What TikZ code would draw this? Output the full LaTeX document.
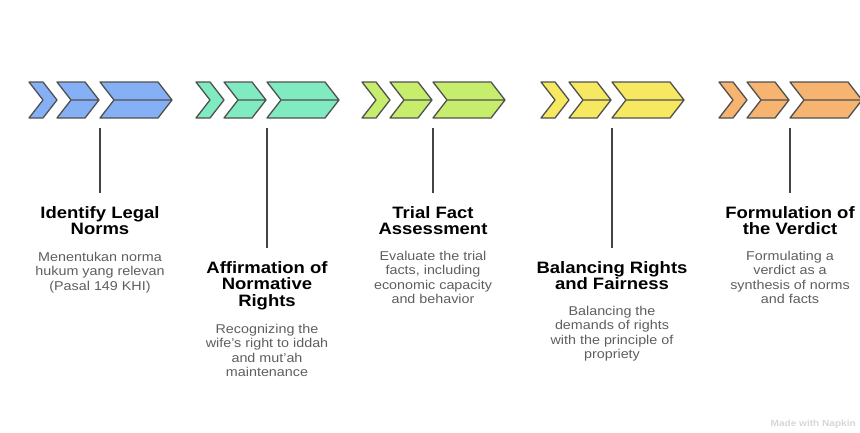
\documentclass[tikz,border=0pt]{standalone}
\usepackage{fontspec}
\setmainfont{Liberation Sans}[FakeStretch=1.12]
\usepackage{tikz}

\definecolor{stepblue}{RGB}{134,176,246}
\definecolor{stepmint}{RGB}{128,234,192}
\definecolor{steplime}{RGB}{198,238,108}
\definecolor{stepyellow}{RGB}{246,232,96}
\definecolor{steporange}{RGB}{246,180,112}
\definecolor{chevline}{RGB}{80,80,80}
\definecolor{stemgray}{RGB}{68,68,68}
\definecolor{descgray}{RGB}{95,95,95}
\definecolor{markgray}{RGB}{215,215,215}

\tikzset{
  chev/.style={draw=chevline, line width=1.3pt, line join=round},
  stem/.style={draw=stemgray, line width=1.8pt},
  headtext/.style={anchor=north, align=center, inner sep=0pt, text=black,
    font=\fontsize{16.5}{16.7}\selectfont\bfseries},
  desctext/.style={anchor=north, align=center, inner sep=0pt, text=descgray,
    font=\fontsize{12.8}{14.3}\selectfont}
}

\begin{document}
\begin{tikzpicture}[x=1pt,y=-1pt]
  \useasboundingbox (0,0) rectangle (860,432);
  \clip (0,0) rectangle (860,432);
  \fill[white] (0,0) rectangle (860,432);

% Step 1
% Identify legal norms
\begin{scope}[shift={(100,0)}]
  \filldraw[chev, fill=stepblue] (-71,82) -- (-57,82) -- (-43,100) -- (-57,118) -- (-71,118) -- (-57,100) -- cycle;
  \filldraw[chev, fill=stepblue] (-43,82) -- (-15,82) -- (-1,100) -- (-15,118) -- (-43,118) -- (-29,100) -- cycle (-29,100) -- (-1,100);
  \filldraw[chev, fill=stepblue] (0,82) -- (58,82) -- (72,100) -- (58,118) -- (0,118) -- (14,100) -- cycle (14,100) -- (72,100);

  \coordinate (top1) at (0,128);
  \coordinate (end1) at (0,193);
  \draw[stem] (top1) -- (end1);
  \node[headtext] (head1) at (0,206) {Identify Legal\\Norms};
  \node[desctext] (desc1) at (0,252) {Menentukan norma\\hukum yang relevan\\(Pasal 149 KHI)};
\end{scope}

% Step 2
% Affirmation of normative rights
\begin{scope}[shift={(267,0)}]
  \filldraw[chev, fill=stepmint] (-71,82) -- (-57,82) -- (-43,100) -- (-57,118) -- (-71,118) -- (-57,100) -- cycle;
  \filldraw[chev, fill=stepmint] (-43,82) -- (-15,82) -- (-1,100) -- (-15,118) -- (-43,118) -- (-29,100) -- cycle (-29,100) -- (-1,100);
  \filldraw[chev, fill=stepmint] (0,82) -- (58,82) -- (72,100) -- (58,118) -- (0,118) -- (14,100) -- cycle (14,100) -- (72,100);

  \coordinate (top2) at (0,128);
  \coordinate (end2) at (0,248);
  \draw[stem] (top2) -- (end2);
  \node[headtext] (head2) at (0,261) {Affirmation of\\Normative\\Rights};
  \node[desctext] (desc2) at (0,324) {Recognizing the\\wife's right to iddah\\and mut'ah\\maintenance};
\end{scope}

% Step 3
% Trial fact assessment
\begin{scope}[shift={(433,0)}]
  \filldraw[chev, fill=steplime] (-71,82) -- (-57,82) -- (-43,100) -- (-57,118) -- (-71,118) -- (-57,100) -- cycle;
  \filldraw[chev, fill=steplime] (-43,82) -- (-15,82) -- (-1,100) -- (-15,118) -- (-43,118) -- (-29,100) -- cycle (-29,100) -- (-1,100);
  \filldraw[chev, fill=steplime] (0,82) -- (58,82) -- (72,100) -- (58,118) -- (0,118) -- (14,100) -- cycle (14,100) -- (72,100);

  \coordinate (top3) at (0,128);
  \coordinate (end3) at (0,193);
  \draw[stem] (top3) -- (end3);
  \node[headtext] (head3) at (0,206) {Trial Fact\\Assessment};
  \node[desctext] (desc3) at (0,251) {Evaluate the trial\\facts, including\\economic capacity\\and behavior};
\end{scope}

% Step 4
% Balancing rights and fairness
\begin{scope}[shift={(612,0)}]
  \filldraw[chev, fill=stepyellow] (-71,82) -- (-57,82) -- (-43,100) -- (-57,118) -- (-71,118) -- (-57,100) -- cycle;
  \filldraw[chev, fill=stepyellow] (-43,82) -- (-15,82) -- (-1,100) -- (-15,118) -- (-43,118) -- (-29,100) -- cycle (-29,100) -- (-1,100);
  \filldraw[chev, fill=stepyellow] (0,82) -- (58,82) -- (72,100) -- (58,118) -- (0,118) -- (14,100) -- cycle (14,100) -- (72,100);

  \coordinate (top4) at (0,128);
  \coordinate (end4) at (0,248);
  \draw[stem] (top4) -- (end4);
  \node[headtext] (head4) at (0,261) {Balancing Rights\\and Fairness};
  \node[desctext] (desc4) at (0,306) {Balancing the\\demands of rights\\with the principle of\\propriety};
\end{scope}

% Step 5
% Formulation of the verdict
\begin{scope}[shift={(790,0)}]
  \filldraw[chev, fill=steporange] (-71,82) -- (-57,82) -- (-43,100) -- (-57,118) -- (-71,118) -- (-57,100) -- cycle;
  \filldraw[chev, fill=steporange] (-43,82) -- (-15,82) -- (-1,100) -- (-15,118) -- (-43,118) -- (-29,100) -- cycle (-29,100) -- (-1,100);
  \filldraw[chev, fill=steporange] (0,82) -- (58,82) -- (72,100) -- (58,118) -- (0,118) -- (14,100) -- cycle (14,100) -- (72,100);

  \coordinate (top5) at (0,128);
  \coordinate (end5) at (0,193);
  \draw[stem] (top5) -- (end5);
  \node[headtext] (head5) at (0,206) {Formulation of\\the Verdict};
  \node[desctext] (desc5) at (0,251) {Formulating a\\verdict as a\\synthesis of norms\\and facts};
\end{scope}

% Watermark
  \node[anchor=south east, inner sep=0pt, text=markgray, font=\fontsize{9}{9}\selectfont\bfseries] (mark) at (856,429) {Made with Napkin};
\end{tikzpicture}
\end{document}
